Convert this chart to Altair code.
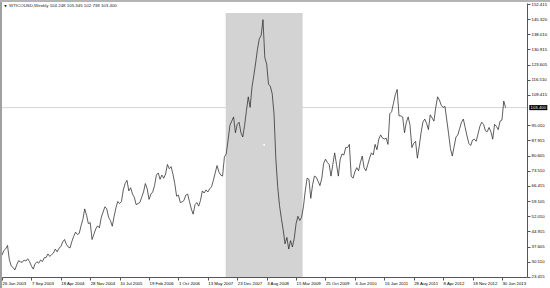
import altair as alt
import pandas as pd

# ---- data (biweekly closes) ----
p2003 = [33.6, 35.8, 36.6, 38.2, 31.5, 28.5, 27.8, 26.6, 29.0, 31.0, 30.5, 30.2, 31.3,
         30.8, 31.9, 30.5, 28.5, 27.0, 29.5, 30.5, 29.8, 31.3, 30.6, 32.4, 32.5]
p2004 = [34.2, 33.0, 33.9, 34.6, 36.5, 35.2, 36.9, 37.6, 39.8, 41.0, 38.8, 37.5, 37.0,
         40.0, 42.5, 44.5, 43.4, 43.9, 47.5, 50.5, 55.5, 52.5, 48.5, 49.0, 41.0, 43.5]
p2005 = [46.0, 47.5, 46.5, 51.5, 54.0, 56.5, 55.5, 51.5, 50.0, 47.3, 52.0, 56.0, 59.0,
         58.0, 59.0, 64.5, 67.5, 69.0, 64.0, 65.5, 62.5, 61.0, 57.5, 58.0, 58.5, 61.0]
p2006 = [63.5, 67.5, 65.0, 60.0, 62.5, 63.5, 66.5, 71.5, 72.5, 69.5, 71.5, 70.0, 72.0,
         76.5, 74.5, 75.5, 72.0, 67.5, 61.5, 62.0, 58.5, 58.8, 59.5, 62.0, 62.5, 59.0]
p2007 = [55.5, 53.0, 57.5, 58.5, 56.8, 59.5, 64.0, 63.0, 64.5, 63.5, 65.0, 66.0, 69.0,
         72.5, 76.0, 73.0, 71.5, 71.0, 80.0, 81.5, 88.0, 95.0, 97.0, 99.0, 91.5, 95.5]
p2008 = [96.5, 91.5, 89.5, 95.0, 102.0, 108.5, 103.5, 113.0, 118.5, 124.5, 131.0, 136.0, 137.5,
         145.0, 127.0, 124.0, 114.5, 113.5, 110.0, 100.5, 79.0, 66.0, 57.0, 51.0, 45.5, 39.0]
p2009 = [42.0, 36.5, 40.5, 37.5, 41.5, 48.5, 52.0, 50.0, 51.5, 56.5, 64.0, 70.0, 69.5,
         60.5, 67.0, 71.0, 70.5, 68.5, 66.5, 70.0, 77.0, 79.0, 77.5, 76.5, 71.0, 76.5]
p2010 = [82.0, 76.5, 71.0, 79.0, 81.5, 81.0, 84.5, 84.5, 86.0, 71.0, 70.0, 73.0, 75.0,
         73.5, 77.5, 80.5, 75.0, 73.5, 76.5, 79.5, 82.0, 81.0, 86.0, 83.5, 88.5, 90.5]
p2011 = [89.0, 88.5, 89.0, 86.0, 100.5, 101.5, 105.5, 109.5, 112.0, 99.5, 99.5, 99.0, 91.5,
         96.5, 99.0, 95.0, 84.5, 86.5, 87.5, 79.5, 85.0, 91.5, 96.5, 98.0, 96.0, 93.0]
p2012 = [100.0, 98.5, 97.0, 103.5, 108.5, 107.0, 104.5, 103.5, 104.0, 97.5, 91.0, 84.0, 80.5,
         85.0, 89.5, 90.5, 93.5, 96.5, 98.0, 94.0, 90.0, 86.5, 85.5, 88.0, 88.5, 87.5, 91.0]
p2013 = [94.5, 96.5, 95.5, 92.5, 92.0, 94.0, 92.0, 88.5, 95.5, 94.5, 93.0, 97.0, 97.5,
         106.5, 103.4]
prices = p2003 + p2004 + p2005 + p2006 + p2007 + p2008 + p2009 + p2010 + p2011 + p2012 + p2013
first_date = "2003-01-26"

x_labels = ["2003-01-26", "2003-09-07", "2004-04-18", "2004-11-28", "2005-07-10",
            "2006-02-19", "2006-10-01", "2007-05-13", "2007-12-23", "2008-08-03",
            "2009-03-15", "2009-10-25", "2010-06-06", "2011-01-16", "2011-08-28",
            "2012-04-08", "2012-11-18", "2013-06-30"]
y_ticks = [152.415, 145.320, 138.010, 130.915, 123.605, 116.510, 109.415,
           95.010, 87.915, 80.605, 73.510, 66.415, 59.105, 52.010, 44.915,
           37.605, 30.510, 23.415]
x_domain = ["2003-01-26", "2014-01-07"]
y_domain = [23.28, 152.89]
rect_dates = ["2007-09-26", "2009-05-04"]
rect_top = 148.2
symbol = "WTICOUSD"
period = "Weekly"
ohlc = [104.248, 105.345, 102.738, 103.400]
bid = 103.400

FONT = "Liberation Sans"
FS = 4.3


def ms(s):
    return int(pd.Timestamp(s, tz="UTC").value // 10**6)


dates = pd.date_range(first_date, periods=len(prices), freq="14D").strftime("%Y-%m-%d").tolist()
df = pd.DataFrame({"date": dates, "price": prices})

xs = alt.Scale(type="utc", domain=[ms(d) for d in x_domain], nice=False)
ys = alt.Scale(domain=y_domain, nice=False, zero=False)

xa = alt.Axis(
    values=[ms(d) for d in x_labels], format="%-d %b %Y", labelAlign="left",
    labelFlush=False, labelOverlap=False, labelBound=False, labelFontSize=FS,
    labelFont=FONT, labelColor="black", tickSize=3, tickColor="#555",
    domainColor="#555", labelPadding=1, title=None, grid=False)
ya = alt.Axis(
    orient="right", values=y_ticks, format=".3f", labelFontSize=FS, labelFont=FONT,
    labelColor="black", tickSize=3, tickColor="#555", domainColor="#555",
    labelPadding=1, labelOverlap=False, labelBound=False, labelFlush=False,
    title=None, grid=False)

line = alt.Chart(df).mark_line(color="#2a2a2a", strokeWidth=0.75).encode(
    x=alt.X("date:T", scale=xs, axis=xa),
    y=alt.Y("price:Q", scale=ys, axis=ya),
)

bid_df = pd.DataFrame({"bid": [bid], "txt": [f"{bid:.3f}"]})
bid_rule = alt.Chart(bid_df).mark_rule(color="#d4d4d4", strokeWidth=1).encode(
    y=alt.Y("bid:Q", scale=ys, axis=ya))

rect_df = pd.DataFrame({"x0": [rect_dates[0]], "x1": [rect_dates[1]],
                        "y0": [rect_top], "y1": [y_domain[0]]})
rect = alt.Chart(rect_df).mark_rect(color="#d3d3d3").encode(
    x=alt.X("x0:T", scale=xs, axis=xa), x2="x1:T",
    y=alt.Y("y0:Q", scale=ys, axis=ya), y2="y1:Q")

mid_t = (pd.Timestamp(rect_dates[0]) + (pd.Timestamp(rect_dates[1]) - pd.Timestamp(rect_dates[0])) / 2).strftime("%Y-%m-%d")
mid_df = pd.DataFrame({"t": [mid_t], "v": [(rect_top + y_domain[0]) / 2]})
mid_dot = alt.Chart(mid_df).mark_point(shape="square", size=3, filled=True, color="white", opacity=1).encode(
    x=alt.X("t:T", scale=xs, axis=xa), y=alt.Y("v:Q", scale=ys, axis=ya))

box = alt.Chart(bid_df).mark_point(
    shape="M-1,-0.28H1V0.28H-1Z", size=324, filled=True, color="black", opacity=1).encode(
    x=alt.value(536.3), y=alt.Y("bid:Q", scale=ys, axis=ya))
box_txt = alt.Chart(bid_df).mark_text(
    color="white", fontSize=FS, font=FONT, align="center", baseline="middle").encode(
    x=alt.value(536.3), y=alt.Y("bid:Q", scale=ys, axis=ya), text="txt:N")

header = f"{symbol},{period}  " + " ".join(f"{v:.3f}" for v in ohlc)
head_df = pd.DataFrame({"t": [header], "tri": ["\u25bc"]})
head_txt = alt.Chart(head_df).mark_text(
    color="#222", fontSize=4.4, font=FONT, align="left", baseline="middle").encode(
    x=alt.value(7), y=alt.value(2.8), text="t:N")
head_tri = alt.Chart(head_df).mark_text(
    color="#222", fontSize=3.2, font="DejaVu Sans", align="center", baseline="middle").encode(
    x=alt.value(3.5), y=alt.value(2.8), text="tri:N")

left_border = alt.Chart(head_df).mark_rule(color="#a0a0a0", strokeWidth=2).encode(
    x=alt.value(-1), y=alt.value(-3), y2=alt.value(285))
top_border = alt.Chart(head_df).mark_rule(color="#b4b4b4", strokeWidth=2).encode(
    x=alt.value(-2), x2=alt.value(548), y=alt.value(-2))

chart = alt.layer(
    bid_rule, rect, mid_dot, line, box, box_txt, head_tri, head_txt, left_border, top_border
).properties(
    width=525, height=274,
    autosize=alt.AutoSizeParams(type="none"),
    padding={"left": 2, "top": 3, "right": 23, "bottom": 11},
    background="white",
).configure_view(strokeWidth=0)

chart.save("out.html", embed_options={"renderer": "svg", "actions": False})
